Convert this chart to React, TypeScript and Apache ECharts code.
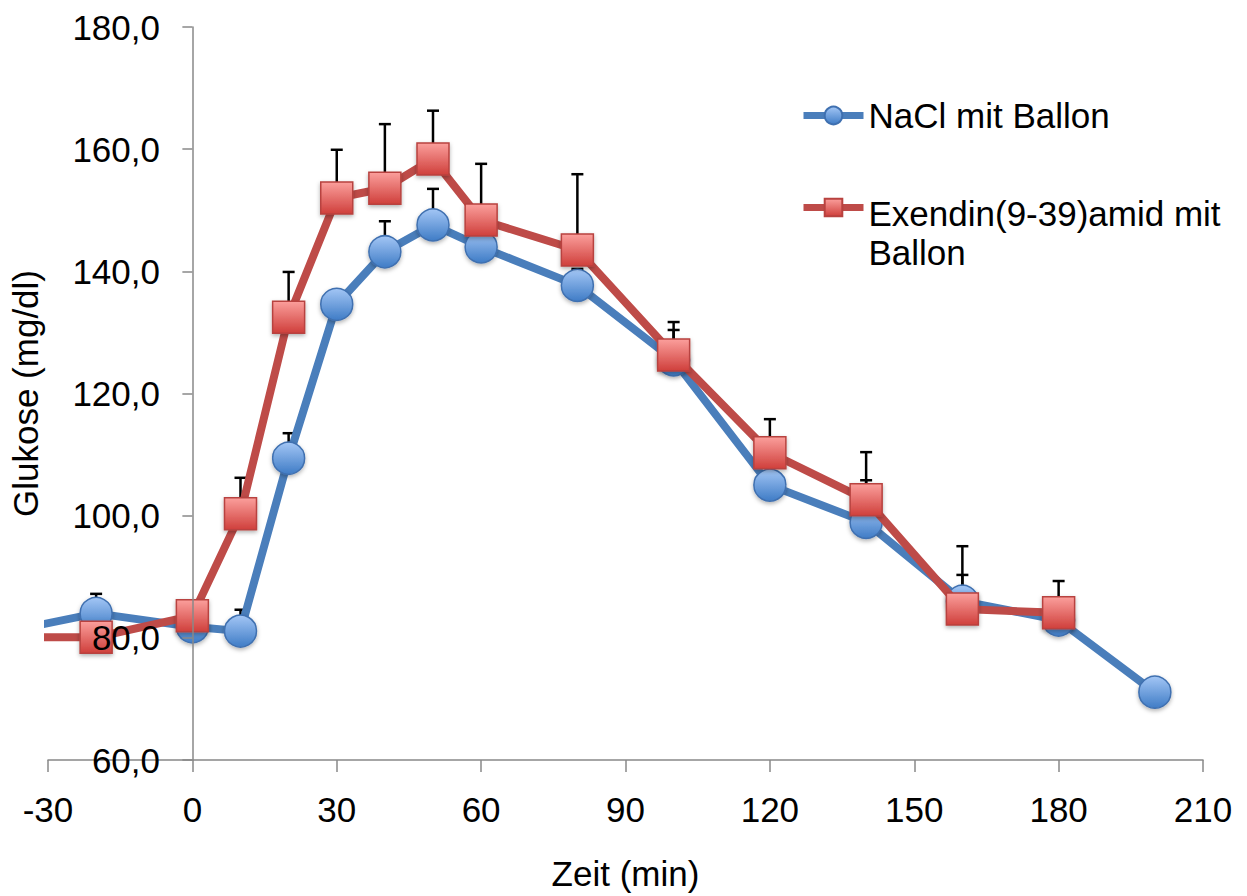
import React, { useEffect, useRef } from "react";
import * as echarts from "echarts";

const timesNaCl = [-40, -20, 0, 10, 20, 30, 40, 50, 60, 80, 100, 120, 140, 160, 180, 200];
const valuesNaCl = [80.8, 84.0, 81.8, 81.1, 109.4, 134.6, 143.2, 147.6, 144.0, 137.7, 125.5, 105.0, 98.9, 86.0, 82.9, 71.1];
const errNaCl = [0, 3.2, 2.0, 3.5, 4.1, 2.0, 5.0, 5.9, 4.0, 2.7, 4.9, 4.0, 6.9, 4.3, 3.0, 0];

const timesEx = [-40, -20, 0, 10, 20, 30, 40, 50, 60, 80, 100, 120, 140, 160, 180];
const valuesEx = [80.1, 80.1, 83.6, 100.3, 132.5, 152.0, 153.6, 158.4, 148.4, 143.5, 126.3, 110.3, 102.6, 84.7, 84.1];
const errEx = [0, 2.0, 2.0, 5.9, 7.4, 7.9, 10.5, 7.9, 9.2, 12.4, 5.4, 5.5, 7.8, 10.3, 5.2];

const nameNaCl = "NaCl mit Ballon";
const nameEx = "Exendin(9-39)amid mit Ballon";
const xAxisName = "Zeit (min)";
const yAxisName = "Glukose (mg/dl)";

const FONT = "'Liberation Sans', Arial, sans-serif";

export default function App() {
  const ref = useRef<HTMLDivElement>(null);

  useEffect(() => {
    if (!ref.current) return;
    const chart = echarts.init(ref.current, null, { renderer: "svg" });

    const blueFill = new echarts.graphic.LinearGradient(0, 0, 0, 1, [
      { offset: 0, color: "#a3c6f5" },
      { offset: 1, color: "#3f7cc6" },
    ]);
    const redFill = new echarts.graphic.LinearGradient(0, 0, 0, 1, [
      { offset: 0, color: "#fb9f9c" },
      { offset: 1, color: "#cf3f3b" },
    ]);

    const errRender = (params: any, api: any) => {
      const x = api.value(0);
      const y = api.value(1);
      const e = api.value(2);
      const p0 = api.coord([x, y]);
      const p1 = api.coord([x, y + e]);
      const hw = 6;
      const st = { stroke: "#000", lineWidth: 2.5 };
      return {
        type: "group",
        children: [
          { type: "line", shape: { x1: p0[0], y1: p0[1], x2: p1[0], y2: p1[1] }, style: st },
          { type: "line", shape: { x1: p1[0] - hw, y1: p1[1], x2: p1[0] + hw, y2: p1[1] }, style: st },
        ],
      };
    };

    const legendText = { fontSize: 35, color: "#000", fontFamily: FONT, lineHeight: 39 };

    chart.setOption({
      animation: false,
      textStyle: { fontFamily: FONT },
      grid: { left: 48, right: 44, top: 27, bottom: 136, containLabel: false, outerBoundsMode: "none" },
      legend: [
        {
          data: [nameNaCl],
          left: 800,
          top: 96,
          padding: 0,
          itemWidth: 60,
          itemHeight: 22,
          lineStyle: { width: 7 },
          textStyle: legendText,
        },
        {
          data: [nameEx],
          left: 800,
          top: 143,
          padding: 0,
          itemWidth: 60,
          itemHeight: 22,
          lineStyle: { width: 7 },
          formatter: () => "{s| }\nExendin(9-39)amid mit\nBallon",
          textStyle: { ...legendText, rich: { s: { lineHeight: 51, fontSize: 10 } } },
        },
      ],
      xAxis: {
        type: "value",
        min: -30,
        max: 210,
        interval: 30,
        name: xAxisName,
        nameLocation: "middle",
        nameGap: 96,
        nameTextStyle: { fontSize: 35, color: "#000", fontFamily: FONT },
        axisLine: { show: true, onZero: false, lineStyle: { color: "#888", width: 1.5 } },
        axisTick: { show: true, length: 12, lineStyle: { color: "#888", width: 1.5 } },
        axisLabel: { fontSize: 35, color: "#000", margin: 32, fontFamily: FONT },
        splitLine: { show: false },
      },
      yAxis: {
        type: "value",
        min: 60,
        max: 180,
        interval: 20,
        z: 5,
        name: yAxisName,
        nameLocation: "middle",
        nameRotate: 90,
        nameGap: 5,
        nameTextStyle: { fontSize: 35, color: "#000", fontFamily: FONT },
        axisLine: { show: true, onZero: true, lineStyle: { color: "#888", width: 1.5 } },
        axisTick: { show: true, length: 10, lineStyle: { color: "#888", width: 1.5 } },
        axisLabel: {
          fontSize: 35,
          color: "#000",
          margin: -112,
          fontFamily: FONT,
          formatter: (v: number) => v.toFixed(1).replace(".", ","),
        },
        splitLine: { show: false },
      },
      series: [
        {
          type: "custom",
          z: 1,
          clip: true,
          renderItem: errRender,
          encode: { x: 0, y: 1 },
          data: timesNaCl.map((t, i) => [t, valuesNaCl[i], errNaCl[i]]),
          silent: true,
        },
        {
          type: "custom",
          z: 1,
          clip: true,
          renderItem: errRender,
          encode: { x: 0, y: 1 },
          data: timesEx.map((t, i) => [t, valuesEx[i], errEx[i]]),
          silent: true,
        },
        {
          name: nameNaCl,
          type: "line",
          z: 2,
          clip: true,
          data: timesNaCl.map((t, i) => [t, valuesNaCl[i]]),
          symbol: "circle",
          symbolSize: 32,
          showAllSymbol: true,
          lineStyle: { color: "#4a7ebb", width: 8 },
          itemStyle: {
            color: blueFill,
            borderColor: "#3f70b0",
            borderWidth: 1.5,
            shadowBlur: 4,
            shadowOffsetY: 2,
            shadowColor: "rgba(0,0,0,0.3)",
          },
        },
        {
          name: nameEx,
          type: "line",
          z: 3,
          clip: true,
          data: timesEx.map((t, i) => [t, valuesEx[i]]),
          symbol: "rect",
          symbolSize: 32,
          showAllSymbol: true,
          lineStyle: { color: "#be4b48", width: 8 },
          itemStyle: {
            color: redFill,
            borderColor: "#b8423f",
            borderWidth: 1.5,
            shadowBlur: 4,
            shadowOffsetY: 2,
            shadowColor: "rgba(0,0,0,0.3)",
          },
        },
      ],
    });

    return () => chart.dispose();
  }, []);

  return (
    <div
      ref={ref}
      style={{ position: "fixed", left: 0, top: 0, width: 1247, height: 896, background: "#fff" }}
    />
  );
}
